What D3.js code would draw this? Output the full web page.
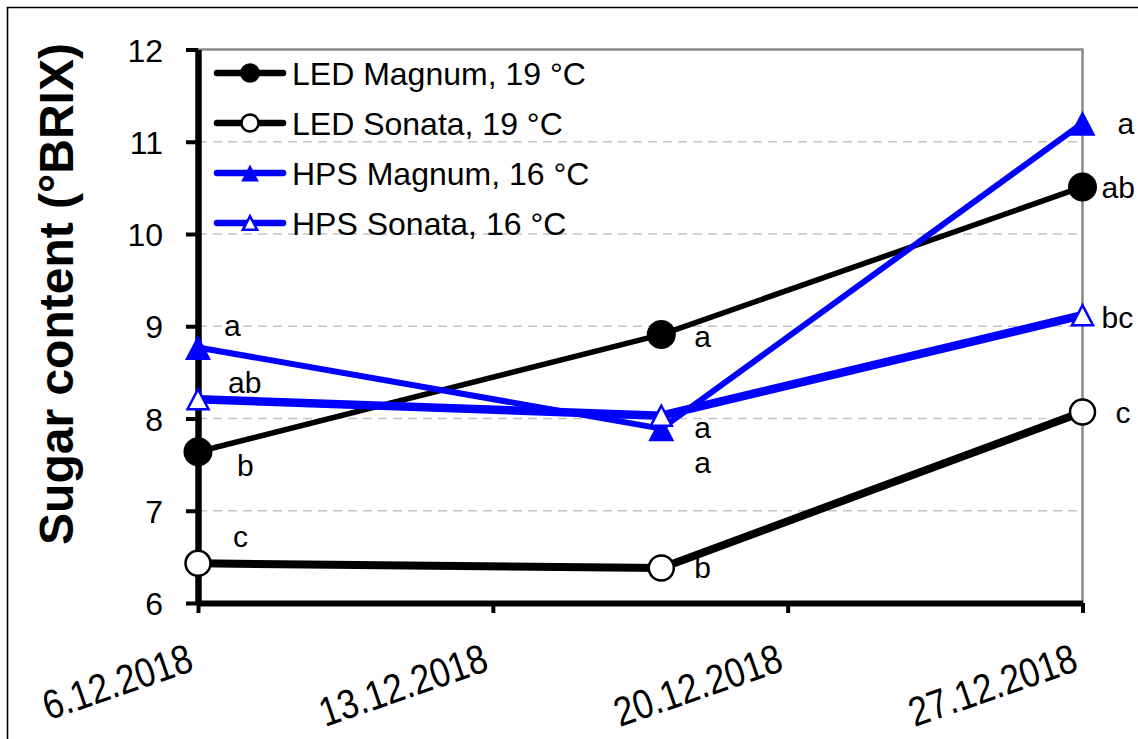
<!DOCTYPE html>
<html>
<head>
<meta charset="utf-8">
<script src="https://d3js.org/d3.v7.min.js"></script>
<style>
  body { margin: 0; background: #fff; }
  text { font-family: "Liberation Sans", Arial, sans-serif; fill: #000; }
</style>
</head>
<body>
<div id="chartHere"></div>
<script>
// ---- data ----
var sampleDates = ["2018-12-06", "2018-12-17", "2018-12-27"];
var tickDates   = ["2018-12-06", "2018-12-13", "2018-12-20", "2018-12-27"];
var yTicks      = [6, 7, 8, 9, 10, 11, 12];
var gridValues  = [7, 8, 9, 10, 11];

var seriesNames = ["LED Magnum, 19 °C", "LED Sonata, 19 °C", "HPS Magnum, 16 °C", "HPS Sonata, 16 °C"];
var ledMagnum   = [7.64, 8.91, 10.51];
var ledSonata   = [6.43, 6.38, 8.07];
var hpsMagnum   = [8.77, 7.89, 11.2];
var hpsSonata   = [8.21, 8.03, 9.12];

var ledMagnumLetters = ["b", "a", "ab"];
var ledSonataLetters = ["c", "b", "c"];
var hpsMagnumLetters = ["a", "a", "a"];
var hpsSonataLetters = ["ab", "a", "bc"];

// ---- layout / style ----
var W = 1138, H = 739;
var parse = d3.timeParse("%Y-%m-%d");

var styles = [
  { values: ledMagnum, letters: ledMagnumLetters, color: "#000", width: 5.5, marker: "circle",   filled: true,
    offs: [[39, 24], [33, 12], [19, 11]] },
  { values: ledSonata, letters: ledSonataLetters, color: "#000", width: 8,   marker: "circle",   filled: false,
    offs: [[35, -16], [33, 10], [33, 11]] },
  { values: hpsMagnum, letters: hpsMagnumLetters, color: "#0000ff", width: 6, marker: "triangle", filled: true,
    offs: [[26, -11], [33, 44], [35, 11]] },
  { values: hpsSonata, letters: hpsSonataLetters, color: "#0000ff", width: 8.5, marker: "triangle", filled: false,
    offs: [[30, -6], [33, 22], [19, 13]] }
];

var svg = d3.select("#chartHere").append("svg")
  .attr("width", W).attr("height", H);

svg.append("rect").attr("width", W).attr("height", H).attr("fill", "#fff");

// cropped outer frame (left + top only)
svg.append("path")
  .attr("d", "M7.5," + H + "V7.5H" + W)
  .attr("fill", "none").attr("stroke", "#000").attr("stroke-width", 1.6);

var xScale = d3.scaleTime()
  .domain([parse("2018-12-06"), parse("2018-12-27")])
  .range([198, 1082.5]);

var yScale = d3.scaleLinear()
  .domain([6, 12])
  .range([603, 49.5]);

// grid
svg.selectAll("line.grid")
  .data(gridValues).enter().append("line")
  .attr("class", "grid")
  .attr("x1", xScale.range()[0]).attr("x2", xScale.range()[1])
  .attr("y1", function (d) { return yScale(d); })
  .attr("y2", function (d) { return yScale(d); })
  .attr("stroke", "#c4c4c4").attr("stroke-width", 1.5)
  .attr("stroke-dasharray", "9,6");

// plot-area border (top and right)
svg.append("path")
  .attr("d", "M" + xScale.range()[0] + "," + yScale(12) + "H" + xScale.range()[1] + "V" + yScale(6))
  .attr("fill", "none").attr("stroke", "#8a8a8a").attr("stroke-width", 2.5);

// x axis
var xAxis = d3.axisBottom(xScale)
  .tickValues(tickDates.map(parse))
  .tickSize(10).tickSizeOuter(0)
  .tickFormat(d3.timeFormat("%-d.%m.%Y"));

var gx = svg.append("g")
  .attr("transform", "translate(0," + yScale(6) + ")")
  .call(xAxis);
gx.select(".domain").attr("stroke", "#000").attr("stroke-width", 6);
gx.selectAll(".tick line").attr("stroke", "#000").attr("stroke-width", 4);
gx.selectAll(".tick text")
  .attr("y", null).attr("dy", null)
  .attr("transform", "translate(-3,67) rotate(-19) scale(0.92,1.08)")
  .style("text-anchor", "end")
  .style("font-size", "38px");

// y axis
var yAxis = d3.axisLeft(yScale)
  .tickValues(yTicks)
  .tickSize(12).tickSizeOuter(0).tickPadding(23)
  .tickFormat(d3.format("d"));

var gy = svg.append("g")
  .attr("transform", "translate(" + xScale.range()[0] + ",0)")
  .call(yAxis);
gy.select(".domain").attr("stroke", "#000").attr("stroke-width", 6.5);
gy.selectAll(".tick line").attr("stroke", "#000").attr("stroke-width", 4);
gy.selectAll(".tick text").style("font-size", "32px").attr("dy", "0.36em");

// y title
svg.append("text")
  .attr("transform", "translate(73,294) rotate(-90)")
  .style("text-anchor", "middle")
  .style("font-size", "48px")
  .style("font-weight", "bold")
  .text("Sugar content (°BRIX)");

function markerPath(filled, s) {
  var w = filled ? 26 * s : 21 * s, h = filled ? 25 * s : 20 * s;
  return "M0," + (-h / 2) + "L" + (w / 2) + "," + (h / 2) + "L" + (-w / 2) + "," + (h / 2) + "Z";
}

function drawMarker(g, st, s) {
  if (st.marker === "circle") {
    g.append("circle")
      .attr("r", (st.filled ? 14.5 : 12.5) * s)
      .attr("fill", st.filled ? st.color : "#fff")
      .attr("stroke", st.color)
      .attr("stroke-width", st.filled ? 0 : 2.5);
  } else {
    g.append("path")
      .attr("d", markerPath(st.filled, s))
      .attr("fill", st.filled ? st.color : "#fff")
      .attr("stroke", st.color)
      .attr("stroke-width", st.filled ? 0 : 2.5);
  }
}

var line = d3.line()
  .x(function (d, i) { return xScale(parse(sampleDates[i])); })
  .y(function (d) { return yScale(d); });

styles.forEach(function (st) {
  var g = svg.append("g");
  g.append("path")
    .attr("d", line(st.values))
    .attr("fill", "none")
    .attr("stroke", st.color)
    .attr("stroke-width", st.width)
    .attr("stroke-linejoin", "round");

  st.values.forEach(function (v, i) {
    var m = g.append("g")
      .attr("transform", "translate(" + xScale(parse(sampleDates[i])) + "," + yScale(v) + ")");
    drawMarker(m, st, 1);
  });
});

// significance letters
styles.forEach(function (st) {
  st.values.forEach(function (v, i) {
    svg.append("text")
      .attr("x", xScale(parse(sampleDates[i])) + st.offs[i][0])
      .attr("y", yScale(v) + st.offs[i][1])
      .style("font-size", "30px")
      .text(st.letters[i]);
  });
});

// legend
var legend = svg.append("g").attr("transform", "translate(215,73)");
styles.forEach(function (st, i) {
  var row = legend.append("g").attr("transform", "translate(0," + (i * 50) + ")");
  row.append("line")
    .attr("x1", 2).attr("x2", 68)
    .attr("stroke", st.color).attr("stroke-width", 6.5)
    .attr("stroke-linecap", "round");
  var m = row.append("g").attr("transform", "translate(35,0)");
  drawMarker(m, st, 0.68);
  row.append("text")
    .attr("x", 77).attr("y", 11.5)
    .style("font-size", "32px")
    .text(seriesNames[i]);
});
</script>
</body>
</html>
